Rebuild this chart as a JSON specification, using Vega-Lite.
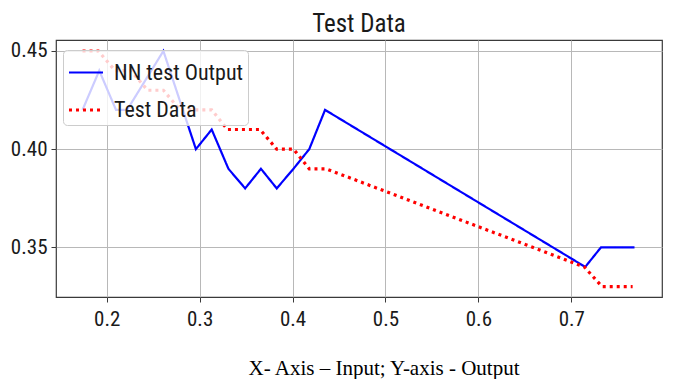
{
  "$schema": "https://vega.github.io/schema/vega-lite/v6.json",
  "autosize": "none",
  "width": 606,
  "height": 257,
  "padding": {"left": 56, "top": 40, "right": 19, "bottom": 82},
  "background": "white",
  "title": {
    "text": "Test Data",
    "font": "Roboto Condensed, DejaVu Sans Condensed, Liberation Sans Narrow, Noto Sans, sans-serif",
    "fontSize": 25,
    "fontWeight": "normal",
    "color": "#1a1a1a",
    "anchor": "middle",
    "offset": 3
  },
  "config": {
    "view": {"stroke": "#3a3a3a", "strokeWidth": 1.2},
    "axis": {
      "labelFont": "Roboto Condensed, DejaVu Sans Condensed, Liberation Sans Narrow, Noto Sans, sans-serif",
      "labelFontSize": 21,
      "labelColor": "#1a1a1a",
      "tickColor": "#3a3a3a",
      "tickSize": 5,
      "tickWidth": 1,
      "domain": false,
      "grid": true,
      "gridColor": "#b8b8b8",
      "gridWidth": 1
    }
  },
  "data": {
    "values": [
      {"x": 0.174, "y": 0.42, "series": "NN test Output"},
      {"x": 0.192, "y": 0.44, "series": "NN test Output"},
      {"x": 0.210, "y": 0.42, "series": "NN test Output"},
      {"x": 0.222, "y": 0.42, "series": "NN test Output"},
      {"x": 0.261, "y": 0.45, "series": "NN test Output"},
      {"x": 0.296, "y": 0.40, "series": "NN test Output"},
      {"x": 0.313, "y": 0.41, "series": "NN test Output"},
      {"x": 0.331, "y": 0.39, "series": "NN test Output"},
      {"x": 0.349, "y": 0.38, "series": "NN test Output"},
      {"x": 0.366, "y": 0.39, "series": "NN test Output"},
      {"x": 0.383, "y": 0.38, "series": "NN test Output"},
      {"x": 0.401, "y": 0.39, "series": "NN test Output"},
      {"x": 0.418, "y": 0.40, "series": "NN test Output"},
      {"x": 0.435, "y": 0.42, "series": "NN test Output"},
      {"x": 0.715, "y": 0.34, "series": "NN test Output"},
      {"x": 0.732, "y": 0.35, "series": "NN test Output"},
      {"x": 0.750, "y": 0.35, "series": "NN test Output"},
      {"x": 0.768, "y": 0.35, "series": "NN test Output"},
      {"x": 0.174, "y": 0.45, "series": "Test Data"},
      {"x": 0.191, "y": 0.45, "series": "Test Data"},
      {"x": 0.209, "y": 0.44, "series": "Test Data"},
      {"x": 0.226, "y": 0.44, "series": "Test Data"},
      {"x": 0.244, "y": 0.43, "series": "Test Data"},
      {"x": 0.261, "y": 0.43, "series": "Test Data"},
      {"x": 0.279, "y": 0.42, "series": "Test Data"},
      {"x": 0.296, "y": 0.42, "series": "Test Data"},
      {"x": 0.313, "y": 0.42, "series": "Test Data"},
      {"x": 0.330, "y": 0.41, "series": "Test Data"},
      {"x": 0.348, "y": 0.41, "series": "Test Data"},
      {"x": 0.365, "y": 0.41, "series": "Test Data"},
      {"x": 0.383, "y": 0.40, "series": "Test Data"},
      {"x": 0.401, "y": 0.40, "series": "Test Data"},
      {"x": 0.418, "y": 0.39, "series": "Test Data"},
      {"x": 0.436, "y": 0.39, "series": "Test Data"},
      {"x": 0.714, "y": 0.34, "series": "Test Data"},
      {"x": 0.733, "y": 0.33, "series": "Test Data"},
      {"x": 0.750, "y": 0.33, "series": "Test Data"},
      {"x": 0.766, "y": 0.33, "series": "Test Data"}
    ]
  },
  "mark": {"type": "line", "clip": true},
  "encoding": {
    "x": {
      "field": "x",
      "type": "quantitative",
      "scale": {"domain": [0.14544, 0.79761], "nice": false, "zero": false},
      "axis": {
        "values": [0.2, 0.3, 0.4, 0.5, 0.6, 0.7],
        "format": ".1f",
        "labelPadding": 6,
        "title": "X- Axis – Input; Y-axis - Output",
        "titleFont": "Liberation Serif, Times New Roman, serif",
        "titleFontSize": 21,
        "titleFontWeight": "normal",
        "titleColor": "#000000",
        "titleX": 327.5,
        "titleY": 77,
        "titleAlign": "center",
        "titleBaseline": "alphabetic",
        "titleAnchor": null
      }
    },
    "y": {
      "field": "y",
      "type": "quantitative",
      "scale": {"domain": [0.32468, 0.4556], "nice": false, "zero": false},
      "axis": {
        "values": [0.35, 0.40, 0.45],
        "format": ".2f",
        "labelPadding": 4,
        "title": null
      }
    },
    "color": {
      "field": "series",
      "type": "nominal",
      "scale": {"domain": ["NN test Output", "Test Data"], "range": ["#0000ff", "#ff0000"]},
      "legend": {
        "title": null,
        "orient": "none",
        "legendX": 7,
        "legendY": 10,
        "direction": "vertical",
        "symbolType": "stroke",
        "symbolSize": 1156,
        "symbolStrokeWidth": 3,
        "labelFont": "Roboto Condensed, DejaVu Sans Condensed, Liberation Sans Narrow, Noto Sans, sans-serif",
        "labelFontSize": 22,
        "labelColor": "#1a1a1a",
        "labelOffset": 9,
        "padding": 4,
        "rowPadding": 7,
        "fillColor": "rgba(255,255,255,0.8)",
        "strokeColor": "#cccccc",
        "cornerRadius": 4
      }
    },
    "strokeDash": {
      "field": "series",
      "type": "nominal",
      "scale": {"domain": ["NN test Output", "Test Data"], "range": [[1, 0], [3, 4]]},
      "legend": null
    },
    "strokeWidth": {
      "field": "series",
      "type": "nominal",
      "scale": {"domain": ["NN test Output", "Test Data"], "range": [2.2, 3.2]},
      "legend": null
    }
  }
}
